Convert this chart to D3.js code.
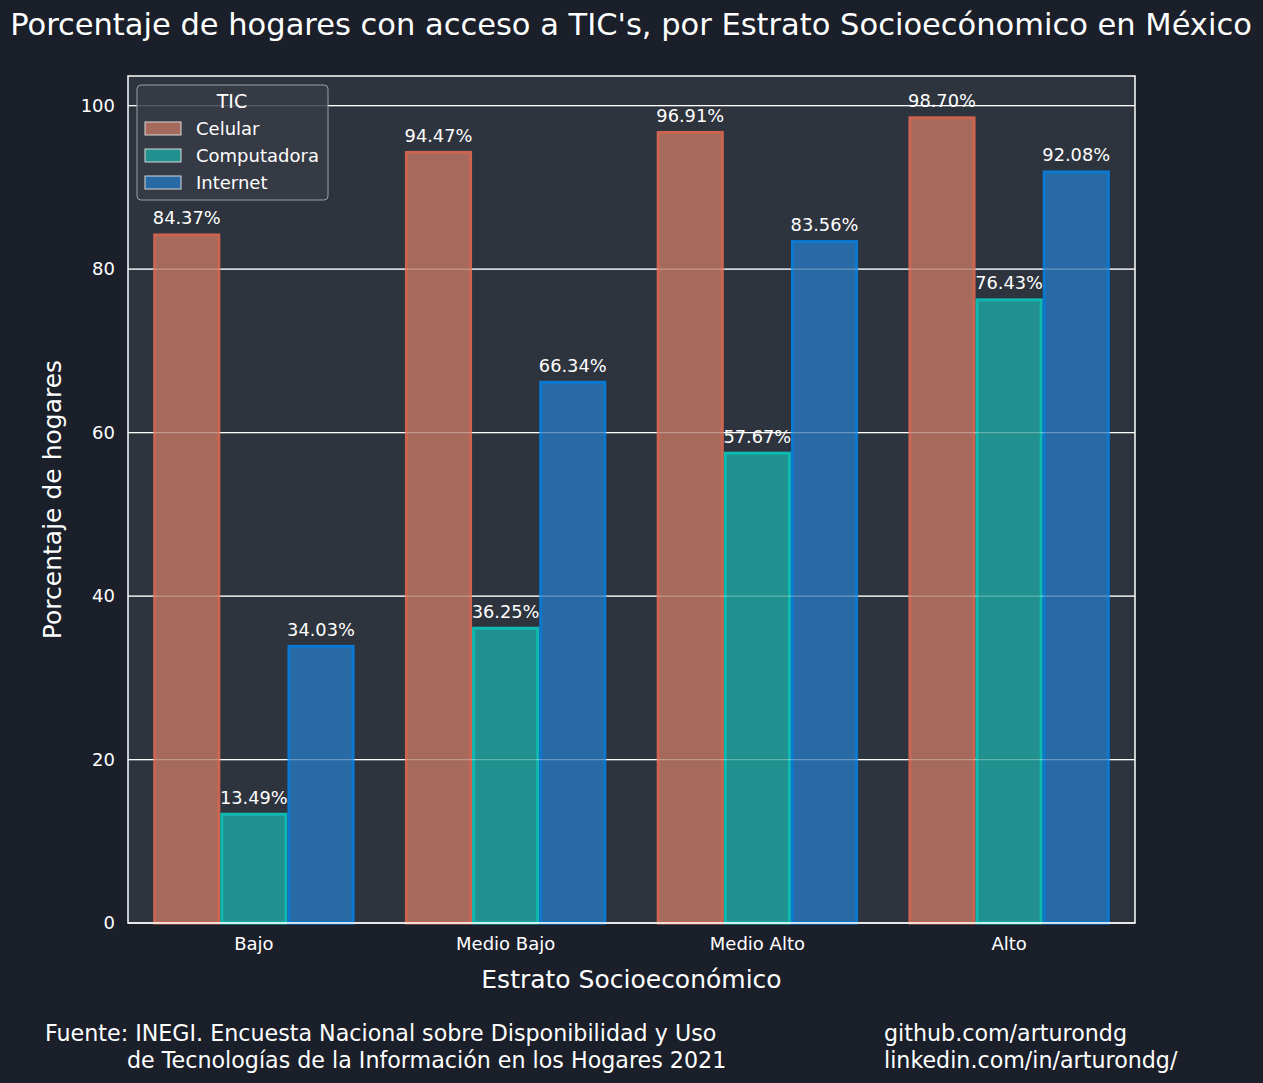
<!DOCTYPE html>
<html>
<head>
<meta charset="utf-8">
<script src="https://cdn.jsdelivr.net/npm/d3@7"></script>
<style>
  body { margin: 0; background: #1a1f2a; }
  text { font-family: "DejaVu Sans", sans-serif; fill: #ffffff; }
</style>
</head>
<body>
<svg id="chart" width="1263" height="1083"></svg>
<script>
// data
const estratos = ["Bajo", "Medio Bajo", "Medio Alto", "Alto"];
const tics = ["Celular", "Computadora", "Internet"];
const celular = [84.37, 94.47, 96.91, 98.70];
const computadora = [13.49, 36.25, 57.67, 76.43];
const internet = [34.03, 66.34, 83.56, 92.08];
const yTicks = [0, 20, 40, 60, 80, 100];

const fills = ["#a66a5c", "#20918e", "#276aa5"];
const edges = ["#cc6550", "#10b8b2", "#0b79d0"];

const series = [celular, computadora, internet];

const svg = d3.select("#chart");
const m = {left: 128, right: 1135, top: 76, bottom: 923};

svg.append("rect").attr("width", 1263).attr("height", 1083).attr("fill", "#1a1f2a");
svg.append("rect").attr("x", m.left).attr("y", m.top)
  .attr("width", m.right - m.left).attr("height", m.bottom - m.top)
  .attr("fill", "#2e343e");

const x = d3.scaleBand().domain(estratos).range([m.left, m.right])
  .paddingInner(0.2).paddingOuter(0.1);
const xs = d3.scaleBand().domain(tics).range([0, x.bandwidth()]);
const y = d3.scaleLinear().domain([0, 98.70 * 1.05]).range([m.bottom, m.top]);

// grid
function grid(op) {
  svg.append("g").selectAll("line").data(yTicks).enter().append("line")
    .attr("x1", m.left).attr("x2", m.right)
    .attr("y1", d => y(d)).attr("y2", d => y(d))
    .style("stroke", "#ffffff").style("stroke-width", "1.2px")
    .style("stroke-opacity", op);
}
grid(1);

// bars
series.forEach(function (vals, s) {
  const g = svg.append("g");
  g.selectAll("rect").data(vals).enter().append("rect")
    .attr("x", (d, i) => x(estratos[i]) + xs(tics[s]) + 1.5)
    .attr("y", d => y(d) + 1.5)
    .attr("width", xs.bandwidth() - 3)
    .attr("height", d => y(0) - y(d) - 1.5)
    .attr("fill", fills[s])
    .style("stroke", edges[s]).style("stroke-width", "3px");
});
grid(0.3);

// bar labels
series.forEach(function (vals, s) {
  svg.append("g").selectAll("text").data(vals).enter().append("text")
    .attr("x", (d, i) => x(estratos[i]) + xs(tics[s]) + xs.bandwidth() / 2)
    .attr("y", d => y(d) - 9)
    .attr("text-anchor", "middle")
    .style("font-size", "17.8px")
    .text(d => d.toFixed(2) + "%");
});

// frame
svg.append("rect").attr("x", m.left).attr("y", m.top)
  .attr("width", m.right - m.left).attr("height", m.bottom - m.top)
  .attr("fill", "none").style("stroke", "#ffffff").style("stroke-width", "1.5px");

// y tick labels
svg.append("g").selectAll("text").data(yTicks).enter().append("text")
  .attr("x", m.left - 13).attr("y", d => y(d))
  .attr("dy", "0.35em").attr("text-anchor", "end")
  .style("font-size", "18px").text(d => d);

// x tick labels
svg.append("g").selectAll("text").data(estratos).enter().append("text")
  .attr("x", d => x(d) + x.bandwidth() / 2).attr("y", 950)
  .attr("text-anchor", "middle")
  .style("font-size", "18px").text(d => d);

// axis titles
svg.append("text").attr("x", (m.left + m.right) / 2).attr("y", 988)
  .attr("text-anchor", "middle").style("font-size", "25px")
  .text("Estrato Socioeconómico");
svg.append("text")
  .attr("transform", "translate(61," + (m.top + m.bottom) / 2 + ") rotate(-90)")
  .attr("text-anchor", "middle").style("font-size", "25px")
  .text("Porcentaje de hogares");

// title
svg.append("text").attr("x", 631).attr("y", 35)
  .attr("text-anchor", "middle").style("font-size", "30.5px")
  .text("Porcentaje de hogares con acceso a TIC's, por Estrato Socioecónomico en México");

// legend
const lg = svg.append("g").attr("transform", "translate(137,85)");
lg.append("rect").attr("width", 191).attr("height", 115).attr("rx", 4)
  .attr("fill", "#363c47").attr("fill-opacity", 0.85)
  .style("stroke", "#9a9ea6").style("stroke-width", "1px");
lg.append("text").attr("x", 95).attr("y", 23).attr("text-anchor", "middle")
  .style("font-size", "19px").text("TIC");
tics.forEach(function (t, i) {
  lg.append("rect").attr("x", 8).attr("y", 37 + i * 27)
    .attr("width", 36).attr("height", 13)
    .attr("fill", fills[i]).style("stroke", "#d8d8d8").style("stroke-width", "1px");
  lg.append("text").attr("x", 59).attr("y", 50 + i * 27)
    .style("font-size", "18px").text(t);
});

// footer
svg.append("text").attr("x", 45).attr("y", 1041).style("font-size", "22.2px")
  .text("Fuente: INEGI. Encuesta Nacional sobre Disponibilidad y Uso");
svg.append("text").attr("x", 127).attr("y", 1068).style("font-size", "22.2px")
  .text("de Tecnologías de la Información en los Hogares 2021");
svg.append("text").attr("x", 884).attr("y", 1041).style("font-size", "22.2px")
  .text("github.com/arturondg");
svg.append("text").attr("x", 884).attr("y", 1068).style("font-size", "22.2px")
  .text("linkedin.com/in/arturondg/");
</script>
</body>
</html>
